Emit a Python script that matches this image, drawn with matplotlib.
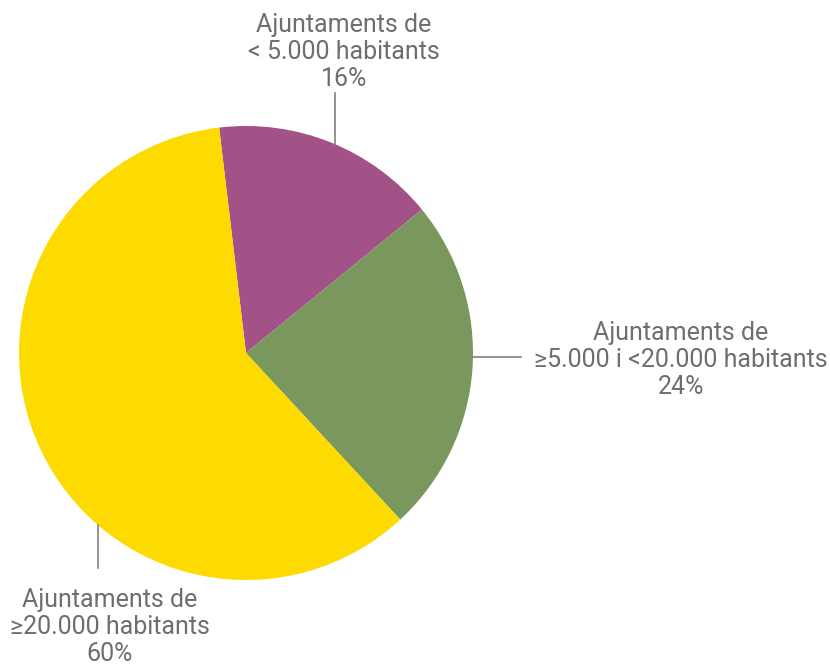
import matplotlib
matplotlib.use("Agg")
import matplotlib.pyplot as plt

categories = ["Ajuntaments de\n< 5.000 habitants",
              "Ajuntaments de\n≥5.000 i <20.000 habitants",
              "Ajuntaments de\n≥20.000 habitants"]
values = [16, 24, 60]
colors = ["#A25287", "#7A985D", "#FDDA00"]

W, H = 830, 669
fig = plt.figure(figsize=(W / 100, H / 100), dpi=100)
ax = fig.add_axes([0, 0, 1, 1])

cx, cy, r = 246, H - 353, 227
ax.pie(values, colors=colors, startangle=96.8, counterclock=False,
       center=(cx, cy), radius=r, frame=True,
       wedgeprops=dict(linewidth=0, antialiased=True))
ax.set_xlim(0, W)
ax.set_ylim(0, H)
ax.set_aspect("equal")
ax.axis("off")

txt = "#6D6E71"
line_c = "#808080"
fs = 18
fam = ["Roboto", "DejaVu Sans"]

# leader lines
ax.plot([335, 335], [H - 93, H - 144], color=line_c, lw=1.2)
ax.plot([473, 521], [H - 357, H - 357], color=line_c, lw=1.2)
ax.plot([98, 98], [H - 525, H - 568], color=line_c, lw=1.2)

labels = [f"{c}\n{v}%" for c, v in zip(categories, values)]
pos = [(344, 52), (681, 360), (110, 627)]
for lab, (x, y) in zip(labels, pos):
    ax.text(x, H - y, lab, ha="center", va="center", fontsize=fs,
            color=txt, family=fam, linespacing=1.18)

fig.savefig("out.png", dpi=100)
